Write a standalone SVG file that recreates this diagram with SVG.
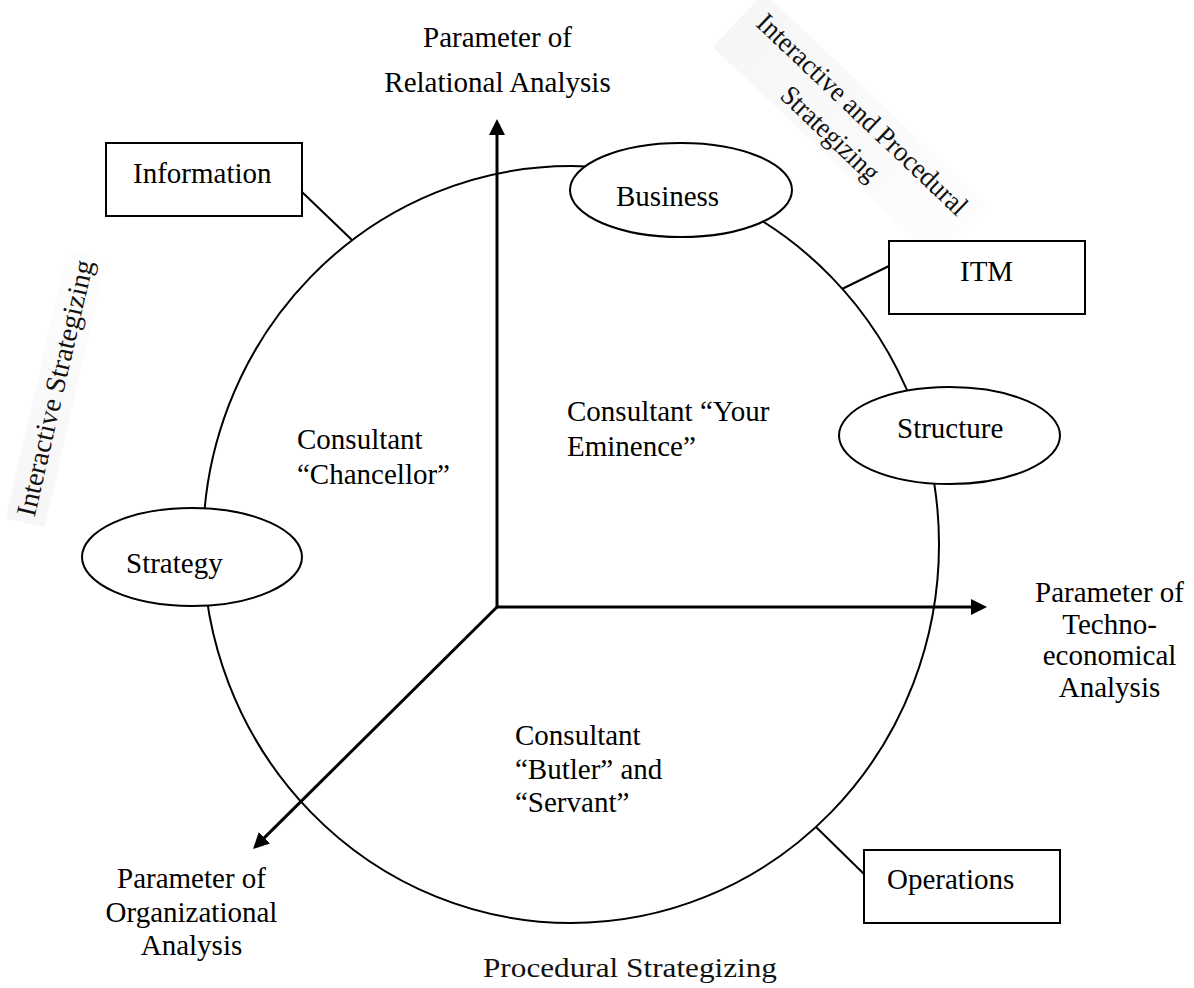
<svg xmlns="http://www.w3.org/2000/svg" width="1194" height="988" viewBox="0 0 1194 988">
<style>
  .t { font-family: "Liberation Serif", "Times New Roman", serif; font-size: 29px; fill: #000; }
  .r { font-family: "Liberation Serif", "Times New Roman", serif; font-size: 28px; fill: #111; }
  .box { fill: #fff; stroke: #000; stroke-width: 2; }
  .ell { fill: #fff; stroke: #000; stroke-width: 2; }
  .ln { stroke: #000; stroke-width: 2; fill: none; }
  .ax { stroke: #000; stroke-width: 3; fill: none; }
</style>
<defs>
  <marker id="ah" viewBox="0 0 16 16" refX="8" refY="8" markerWidth="16" markerHeight="16" markerUnits="userSpaceOnUse" orient="auto">
    <path d="M0,0 L16,8 L0,16 Z" fill="#000"/>
  </marker>
  <linearGradient id="fade" x1="0" y1="0" x2="1" y2="0">
    <stop offset="0" stop-color="#f6f6f6"/>
    <stop offset="1" stop-color="#fdfdfd"/>
  </linearGradient>
</defs>
<rect width="1194" height="988" fill="#fff"/>

<g id="backgrounds">
  <g transform="translate(856,121) rotate(43.5)">
    <rect x="-155" y="-30" width="310" height="75" fill="url(#fade)"/>
  </g>
  <g transform="translate(64,390) rotate(-77)">
    <rect x="-138" y="-28" width="276" height="40" fill="url(#fade)"/>
  </g>
</g>

<g id="main-circle">
  <ellipse cx="571" cy="544.5" rx="368" ry="378.5" class="ln"/>
</g>

<g id="connectors">
  <line x1="497" y1="607" x2="497" y2="127" class="ax" marker-end="url(#ah)"/>
  <line x1="497" y1="607" x2="979" y2="607" class="ax" marker-end="url(#ah)"/>
  <line x1="497" y1="607" x2="258.7" y2="843.4" class="ax" marker-end="url(#ah)"/>
  <line x1="302" y1="192" x2="352" y2="240" class="ln"/>
  <line x1="889" y1="266" x2="842" y2="289" class="ln"/>
  <line x1="864" y1="874" x2="816" y2="827" class="ln"/>
</g>

<g id="node-information">
  <rect x="106" y="143" width="196" height="73" class="box"/>
  <text x="133" y="183" class="t">Information</text>
</g>
<g id="node-itm">
  <rect x="889" y="241" width="196" height="73" class="box"/>
  <text x="960" y="281" class="t">ITM</text>
</g>
<g id="node-operations">
  <rect x="864" y="850" width="196" height="73" class="box"/>
  <text x="887" y="889" class="t">Operations</text>
</g>
<g id="node-business">
  <ellipse cx="681" cy="190" rx="111" ry="47" class="ell"/>
  <text x="616" y="206" class="t">Business</text>
</g>
<g id="node-structure">
  <ellipse cx="949.5" cy="435.5" rx="110.5" ry="48.5" class="ell"/>
  <text x="897" y="438" class="t">Structure</text>
</g>
<g id="node-strategy">
  <ellipse cx="192" cy="557" rx="110" ry="49" class="ell"/>
  <text x="126" y="573" class="t">Strategy</text>
</g>

<g id="label-relational">
  <text x="497.5" y="47" class="t" text-anchor="middle">Parameter of</text>
  <text x="497.5" y="92" class="t" text-anchor="middle">Relational Analysis</text>
</g>
<g id="label-techno">
  <text x="1109.5" y="602" class="t" text-anchor="middle">Parameter of</text>
  <text x="1109.5" y="634" class="t" text-anchor="middle">Techno-</text>
  <text x="1109.5" y="665" class="t" text-anchor="middle">economical</text>
  <text x="1109.5" y="697" class="t" text-anchor="middle">Analysis</text>
</g>
<g id="label-organizational">
  <text x="191.5" y="888" class="t" text-anchor="middle">Parameter of</text>
  <text x="191.5" y="922" class="t" text-anchor="middle">Organizational</text>
  <text x="191.5" y="955" class="t" text-anchor="middle">Analysis</text>
</g>

<g id="label-chancellor">
  <text x="297" y="449" class="t">Consultant</text>
  <text x="297" y="484" class="t">“Chancellor”</text>
</g>
<g id="label-eminence">
  <text x="567" y="421" class="t">Consultant “Your</text>
  <text x="567" y="456" class="t">Eminence”</text>
</g>
<g id="label-butler">
  <text x="515" y="745" class="t">Consultant</text>
  <text x="515" y="779" class="t">“Butler” and</text>
  <text x="515" y="812" class="t">“Servant”</text>
</g>

<g id="label-interactive-procedural" transform="translate(856,121) rotate(43.5)">
  <text x="0" y="0" class="r" text-anchor="middle" textLength="279" lengthAdjust="spacingAndGlyphs">Interactive and Procedural</text>
  <text x="-10" y="36" class="r" text-anchor="middle" textLength="125" lengthAdjust="spacingAndGlyphs">Strategizing</text>
</g>
<g id="label-interactive" transform="translate(64,390) rotate(-77)">
  <text x="0" y="0" class="r" text-anchor="middle" textLength="262" lengthAdjust="spacingAndGlyphs">Interactive Strategizing</text>
</g>
<g id="label-procedural">
  <text x="483" y="977" class="r" font-size="30" textLength="294" lengthAdjust="spacingAndGlyphs">Procedural Strategizing</text>
</g>
</svg>
